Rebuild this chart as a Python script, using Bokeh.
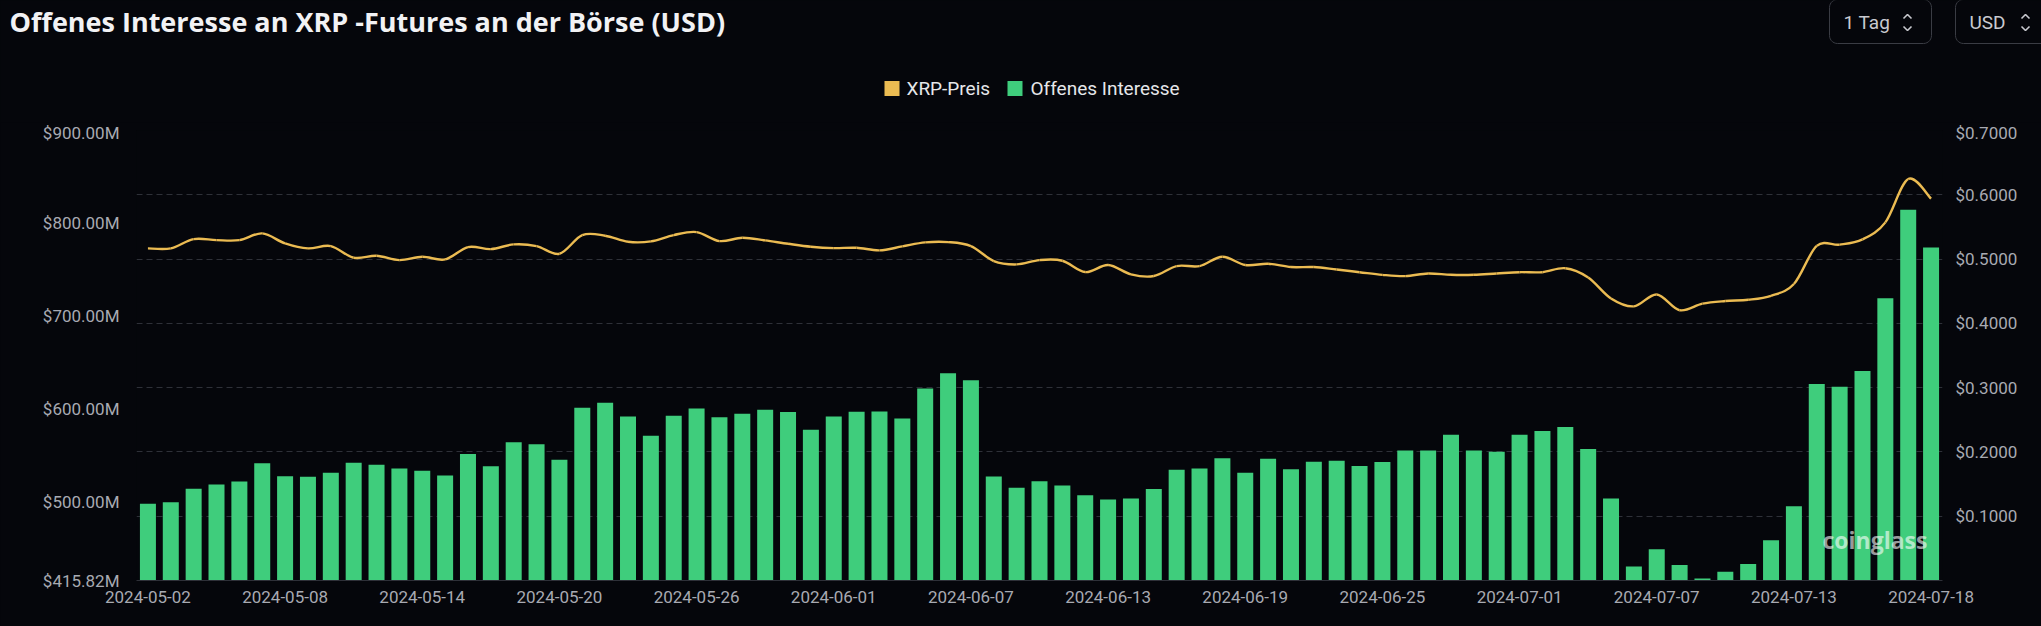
import numpy as np
from bokeh.plotting import figure
from bokeh.layouts import column
from bokeh.models import (Range1d, LinearAxis, FixedTicker, CustomJSTickFormatter, Grid,
                          Label, ColumnDataSource)
from bokeh.core.properties import value
from bokeh.embed import file_html
from bokeh.resources import INLINE

# ---------------- data ----------------
# 79 daily categories, 2024-05-02 ... 2024-07-18 (the source shows 79 bars for this span)
dates = ([f"2024-05-{d:02d}" for d in range(2, 32)] +
         [f"2024-06-{d:02d}" for d in range(1, 31)] +
         [f"2024-07-{d:02d}" for d in range(1, 18)] + ["2024-07-17 ", "2024-07-18"])

# open interest, million USD
oi_musd = [498.3, 500.1, 514.5, 519.1, 522.3, 542.1, 528.1, 527.4, 531.7, 542.4, 540.3, 536.3, 533.8,
           528.8, 551.8, 538.8, 564.7, 562.5, 545.7, 601.6, 607.0, 592.3, 571.5, 593.0, 600.9, 591.6,
           595.2, 599.5, 597.0, 577.9, 592.3, 597.3, 597.7, 590.1, 622.4, 638.9, 631.4, 527.7, 515.5,
           522.7, 518.0, 507.6, 503.0, 504.0, 514.4, 534.9, 536.3, 547.4, 531.7, 546.7, 535.6, 543.5,
           544.6, 539.0, 543.2, 555.8, 555.8, 572.6, 555.8, 554.4, 572.6, 576.8, 581.0, 557.2, 504.0,
           431.0, 449.4, 432.5, 418.0, 425.2, 433.5, 459.2, 495.6, 627.2, 624.4, 641.2, 719.6, 814.8,
           774.2]

# XRP price, USD
xrp_price = [0.5166, 0.5166, 0.5311, 0.5295, 0.5295, 0.5399, 0.5244, 0.5166, 0.5202, 0.5021, 0.5052,
             0.4984, 0.5036, 0.4995, 0.5187, 0.5155, 0.5228, 0.5202, 0.5083, 0.5373, 0.5363, 0.5269,
             0.5275, 0.5373, 0.5420, 0.5280, 0.5332, 0.5290, 0.5238, 0.5192, 0.5171, 0.5176, 0.5135,
             0.5197, 0.5259, 0.5264, 0.5202, 0.4969, 0.4917, 0.4984, 0.4974, 0.4798, 0.4907, 0.4762,
             0.4736, 0.4891, 0.4891, 0.5036, 0.4907, 0.4927, 0.4876, 0.4876, 0.4837, 0.4796, 0.4755,
             0.4735, 0.4776, 0.4755, 0.4755, 0.4776, 0.4796, 0.4796, 0.4857, 0.4714, 0.4388, 0.4265,
             0.4449, 0.4204, 0.4306, 0.4347, 0.4367, 0.4429, 0.4612, 0.5204, 0.5224, 0.5306, 0.5571,
             0.6245, 0.5939]

x_tick_labels = ["2024-05-02", "2024-05-08", "2024-05-14", "2024-05-20", "2024-05-26", "2024-06-01",
                 "2024-06-07", "2024-06-13", "2024-06-19", "2024-06-25", "2024-07-01", "2024-07-07",
                 "2024-07-13", "2024-07-18"]
left_ticks = [415.82, 500, 600, 700, 800, 900]
right_ticks = [0.1, 0.2, 0.3, 0.4, 0.5, 0.6, 0.7]

title_text = "Offenes Interesse an XRP -Futures an der Börse (USD)"
series_names = ["XRP-Preis", "Offenes Interesse"]
selectors = ["1 Tag", "USD"]

# ---------------- style ----------------
BG = "#05060b"
GREEN = "#3fcd7c"
YELLOW = "#ebbb52"
GRID = "#2e3038"
TICK_TXT = "#a8aab2"
FONT = "Roboto"
W = 2041
HEAD_H = 122
MAIN_H = 504

n = len(dates)
idx = list(range(n))

# ================= header (title, selectors, legend) =================
h = figure(width=W, height=HEAD_H, output_backend="svg", toolbar_location=None,
           x_range=Range1d(0, W), y_range=Range1d(HEAD_H, 0),
           x_axis_location=None, y_axis_location=None, min_border=0)
h.background_fill_color = BG
h.border_fill_color = BG
h.outline_line_color = None
h.xgrid.visible = False
h.ygrid.visible = False

h.text(x=[9], y=[21], text=[title_text], text_font=value("Open Sans"), text_font_style="bold",
       text_font_size="27px", text_color="#f2f2f4", text_align="left", text_baseline="middle")


def rounded_box(x0, x1, y0, y1, r=8, k=8):
    """outline of a rounded rectangle (y grows downwards)"""
    px, py = [], []
    corners = [(x1 - r, y1 - r, 0.0), (x0 + r, y1 - r, 0.5 * np.pi),
               (x0 + r, y0 + r, np.pi), (x1 - r, y0 + r, 1.5 * np.pi)]
    for cx, cy, a0 in corners:
        a = np.linspace(a0, a0 + 0.5 * np.pi, k)
        px.extend(cx + r * np.cos(a))
        py.extend(cy + r * np.sin(a))
    px.append(px[0])
    py.append(py[0])
    return px, py


for (bx0, bx1, label, tx, cx) in [(1829, 1931, selectors[0], 1843, 1907),
                                  (1955, 2076, selectors[1], 1969, 2025)]:
    bxs, bys = rounded_box(bx0, bx1, -1, 43)
    h.line(bxs, bys, line_color="#3a3c44", line_width=1)
    h.text(x=[tx], y=[22], text=[label], text_font=value(FONT), text_font_size="19px",
           text_color="#c9cad0", text_align="left", text_baseline="middle")
    # up / down chevrons of the selector
    h.multi_line(xs=[[cx - 4, cx, cx + 4], [cx - 4, cx, cx + 4]],
                 ys=[[18, 14, 18], [26, 30, 26]], line_color="#c9cad0", line_width=1.6)

# legend
leg_y = 88
h.rect(x=[891.5, 1014.5], y=[leg_y, leg_y], width=15, height=15, width_units="screen",
       height_units="screen", fill_color=[YELLOW, GREEN], line_color=None)
h.text(x=[906, 1030], y=[leg_y, leg_y], text=series_names, text_font=value(FONT),
       text_font_size="19px", text_color="#e6e7ea", text_align="left", text_baseline="middle")

# ================= main chart =================
p = figure(width=W, height=MAIN_H, output_backend="svg", toolbar_location=None,
           x_range=Range1d(-0.5, n - 0.5), y_range=Range1d(left_ticks[0], left_ticks[-1]),
           min_border_left=136, min_border_right=99, min_border_top=8, min_border_bottom=46)
p.background_fill_color = BG
p.border_fill_color = BG
p.outline_line_color = None
p.xgrid.visible = False
p.ygrid.visible = False

for fig in (h, p):
    try:
        fig.frame_align = False
    except Exception:
        pass

p.extra_y_ranges = {"price": Range1d(0, right_ticks[-1])}

# bars
src = ColumnDataSource(dict(x=idx, oi=oi_musd))
p.vbar(x="x", top="oi", bottom=left_ticks[0], width=0.7, source=src,
       fill_color=GREEN, line_color=None)

# smooth price line (Catmull-Rom -> cubic Bezier through the read points)
xs = np.array(idx, dtype=float)
ys = np.array(xrp_price, dtype=float)
xp = np.concatenate([[xs[0]], xs, [xs[-1]]])
yp = np.concatenate([[ys[0]], ys, [ys[-1]]])
t = 1.0 / 6.0
seg = dict(
    x0=xs[:-1], y0=ys[:-1], x1=xs[1:], y1=ys[1:],
    cx0=xs[:-1] + (xp[2:-1] - xp[0:-3]) * t, cy0=ys[:-1] + (yp[2:-1] - yp[0:-3]) * t,
    cx1=xs[1:] - (xp[3:] - xp[1:-2]) * t, cy1=ys[1:] - (yp[3:] - yp[1:-2]) * t,
)
p.bezier(x0="x0", y0="y0", x1="x1", y1="y1", cx0="cx0", cy0="cy0", cx1="cx1", cy1="cy1",
         source=ColumnDataSource(seg), line_color=YELLOW, line_width=2.4, y_range_name="price")

# axes
xa = p.xaxis[0]
xa.ticker = FixedTicker(ticks=idx[::6])
xa.major_label_overrides = {i: lab for i, lab in zip(idx[::6], x_tick_labels)}
xa.axis_line_color = GRID
xa.major_tick_line_color = None
xa.minor_tick_line_color = None
xa.major_tick_out = 0
xa.major_tick_in = 0
xa.major_label_standoff = 10
xa.major_label_text_color = TICK_TXT
xa.major_label_text_font = FONT
xa.major_label_text_font_size = "17px"

ya = p.yaxis[0]
ya.ticker = FixedTicker(ticks=left_ticks)
ya.formatter = CustomJSTickFormatter(code="return '$' + tick.toFixed(2) + 'M';")
ya.axis_line_color = None
ya.major_tick_line_color = None
ya.minor_tick_line_color = None
ya.major_tick_out = 0
ya.major_tick_in = 0
ya.major_label_standoff = 17
ya.major_label_text_color = TICK_TXT
ya.major_label_text_font = FONT
ya.major_label_text_font_size = "17px"

ra = LinearAxis(y_range_name="price", ticker=FixedTicker(ticks=right_ticks),
                formatter=CustomJSTickFormatter(code="return '$' + tick.toFixed(4);"))
ra.axis_line_color = None
ra.major_tick_line_color = None
ra.minor_tick_line_color = None
ra.major_tick_out = 0
ra.major_tick_in = 0
ra.major_label_standoff = 13
ra.major_label_text_color = TICK_TXT
ra.major_label_text_font = FONT
ra.major_label_text_font_size = "17px"
p.add_layout(ra, "right")

grid = Grid(dimension=1, ticker=FixedTicker(ticks=right_ticks), y_range_name="price",
            grid_line_color=GRID, grid_line_dash="6 4", grid_line_width=1)
p.add_layout(grid)

# watermark
p.add_layout(Label(x=1686, y=41, x_units="screen", y_units="screen", text="coinglass",
                   text_font="Open Sans", text_font_style="bold", text_font_size="23px",
                   text_color="#ffffff", text_alpha=0.6, text_align="left", text_baseline="middle"))

layout = column(h, p, spacing=0)
try:
    layout.styles = {"background-color": BG}
except Exception:
    pass
open("out.html", "w").write(file_html(layout, INLINE))
